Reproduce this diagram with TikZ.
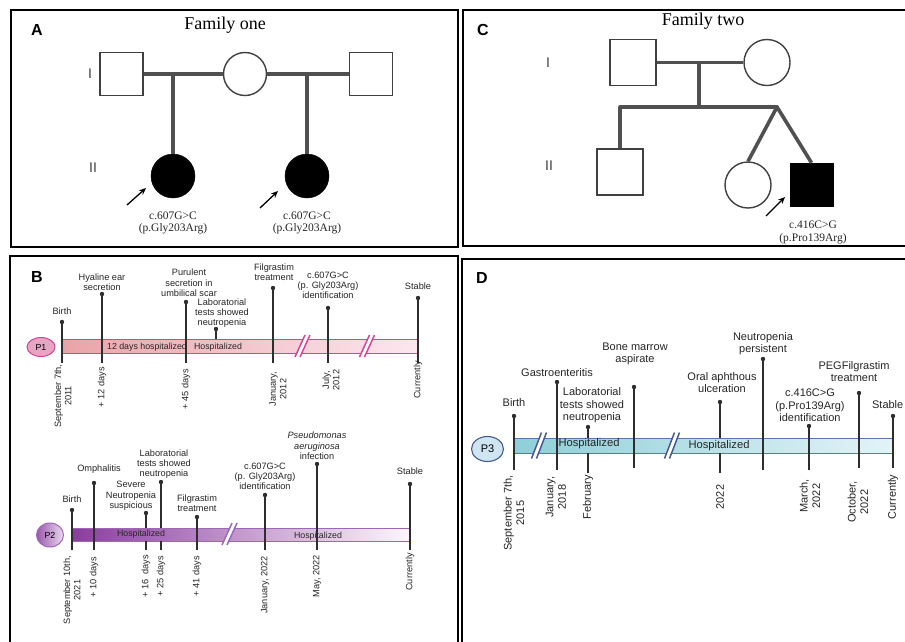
\documentclass[tikz,border=0pt]{standalone}
\usepackage{fontspec}
\setmainfont{Liberation Sans}
\newfontfamily\serifA{Liberation Serif}
\usetikzlibrary{arrows.meta,shapes.geometric}
\definecolor{pedgray}{HTML}{505050}
\definecolor{pinc}{HTML}{2E2E2E}
\definecolor{pka}{HTML}{E9A3A8}
\definecolor{pkb}{HTML}{F8CAD6}
\definecolor{pkc}{HTML}{FDE7EF}
\definecolor{pkline}{HTML}{D4449A}
\definecolor{pkfill}{HTML}{E6A5C2}
\definecolor{pua}{HTML}{8A3C9C}
\definecolor{pub}{HTML}{C9A2D6}
\definecolor{puc}{HTML}{FCF7FC}
\definecolor{puline}{HTML}{9E66B8}
\definecolor{bla}{HTML}{8ECFD7}
\definecolor{blb}{HTML}{BFE3EA}
\definecolor{blc}{HTML}{E3F3F8}
\definecolor{blline}{HTML}{5A78B0}
\definecolor{blfill}{HTML}{CFE6F2}
\definecolor{blbrk}{HTML}{4A5A8C}
\newcommand\tpin[4]{%
  \coordinate (#1t) at (#2,#3); \coordinate (#1b) at (#2,#4);
  \draw[pinline] (#1t) -- (#1b);
  \fill[pinc] (#1t) circle (2.2pt);}
\newcommand\tpinsplit[6]{%
  \coordinate (#1t) at (#2,#3); \coordinate (#1u) at (#2,#4);
  \coordinate (#1l) at (#2,#5); \coordinate (#1b) at (#2,#6);
  \draw[pinline] (#1t) -- (#1u);
  \draw[pinline] (#1l) -- (#1b);
  \fill[pinc] (#1t) circle (2.2pt);}
\newcommand\brkmark[4]{% x, y, color, halfheight
  \draw[white,line width=5pt] (#1-5,#2+#4) -- (#1+5,#2-#4);
  \draw[#3,line width=1.5pt] (#1-7.5,#2+#4) -- (#1+2.5,#2-#4);
  \draw[#3,line width=1.5pt] (#1-2.5,#2+#4) -- (#1+7.5,#2-#4);}
\begin{document}
\begin{tikzpicture}[x=1pt,y=-1pt,
  panel/.style={draw=black, line width=2pt},
  plabel/.style={font=\bfseries\fontsize{16}{16}\selectfont, inner sep=0},
  ttl/.style={font=\serifA\fontsize{18}{20}\selectfont, inner sep=0},
  gen/.style={font=\fontsize{14}{14}\selectfont, text=black!75, inner sep=0},
  ped/.style={draw=pedgray, line width=3.6pt},
  sqm/.style={rectangle, draw=black!75, line width=1.4pt, fill=white, minimum size=43pt, inner sep=0},
  circm/.style={circle, draw=black!75, line width=1.4pt, fill=white, minimum size=43pt, inner sep=0},
  fcirc/.style={circle, draw=black, fill=black, minimum size=44pt, inner sep=0},
  fsq/.style={rectangle, draw=black, fill=black, minimum size=43pt, inner sep=0},
  parrow/.style={draw=black, line width=1.3pt, -{Stealth[length=7pt,width=6pt]}},
  mut/.style={font=\serifA\fontsize{11.5}{12.5}\selectfont, align=center, inner sep=0, text=black!85},
  pinline/.style={draw=pinc, line width=1.2pt},
  evB/.style={font=\fontsize{9.2}{10.3}\selectfont, align=center, inner sep=0, text=black!85},
  evD/.style={font=\fontsize{11}{12.5}\selectfont, align=center, inner sep=0, text=black!85},
  rotB/.style={evB, rotate=90},
  rotD/.style={evD, rotate=90},
  bartxtB/.style={font=\fontsize{8.8}{9}\selectfont, inner sep=0, text=black!85},
  bartxtD/.style={font=\fontsize{11.2}{12}\selectfont, inner sep=0, text=black!85},
  pbadge/.style={ellipse, inner sep=0}
]
\useasboundingbox (0,0) rectangle (905,641);
\fill[white] (0,0) rectangle (905,641);

% ---------------- panels ----------------
\draw[panel] (11,10) rectangle (458,247);
\draw[panel] (463,10) rectangle (915,246);
\draw[panel] (10,256) rectangle (458,660);
\draw[panel] (462,259) rectangle (915,660);

% ---------------- Panel A ----------------
\node[plabel] (labA) at (37,30) {A};
\node[ttl] (ttlA) at (225,25) {Family one};
\node[gen] (genA1) at (90,74) {I};
\node[gen] (genA2) at (93,168) {II};
\node[sqm] (a1) at (121.5,74) {};
\node[circm] (a2) at (245,74) {};
\node[sqm] (a3) at (371,74) {};
\node[fcirc] (a4) at (173,176) {};
\node[fcirc] (a5) at (307,176) {};
\coordinate (am1) at (173,74);
\coordinate (am2) at (307,74);
\draw[ped] (a1.east) -- (a2.west);
\draw[ped] (a2.east) -- (a3.west);
\draw[ped] (am1) -- (a4.north);
\draw[ped] (am2) -- (a5.north);
\coordinate (ar1s) at (127,205); \coordinate (ar1e) at (146,188);
\coordinate (ar2s) at (260,208); \coordinate (ar2e) at (278,191);
\draw[parrow] (ar1s) -- (ar1e);
\draw[parrow] (ar2s) -- (ar2e);
\node[mut] (a4l) at (173,223) {c.607G>C\\(p.Gly203Arg)};
\node[mut] (a5l) at (307,223) {c.607G>C\\(p.Gly203Arg)};

% ---------------- Panel C ----------------
\node[plabel] (labC) at (483,30) {C};
\node[ttl] (ttlC) at (703,21) {Family two};
\node[gen] (genC1) at (548,63) {I};
\node[gen] (genC2) at (549,166) {II};
\node[sqm, minimum size=46pt] (c1) at (633,62.5) {};
\node[circm, minimum size=46pt] (c2) at (767,62.5) {};
\node[sqm, minimum size=46pt] (c3) at (620,172) {};
\node[circm, minimum size=46pt] (c4) at (748,185) {};
\node[fsq] (c5) at (811.5,184.5) {};
\coordinate (cm) at (699,62.5);
\coordinate (cs) at (699,107);
\coordinate (csl) at (620,107);
\coordinate (csr) at (777,107);
\draw[ped] (c1.east) -- (c2.west);
\draw[ped] (cm) -- (cs);
\draw[ped, line cap=round] (csl) -- (csr);
\draw[ped] (csl) -- (c3.north);
\draw[ped] (csr) -- (c4.north);
\draw[ped] (csr) -- (c5.north);
\coordinate (ar3s) at (766,216); \coordinate (ar3e) at (785,197);
\draw[parrow] (ar3s) -- (ar3e);
\node[mut] (c5l) at (813,232.5) {c.416C>G\\(p.Pro139Arg)};

% ---------------- Panel B ----------------
\node[plabel] (labB) at (37,277) {B};

% P1 bar
\draw[draw=pkline, line width=1pt, left color=pka, middle color=pkb, right color=pkc] (62,339) rectangle (418,353);
\node[pbadge, draw=pkline, line width=1pt, fill=pkfill, minimum width=28pt, minimum height=19pt] (p1) at (41,347) {\fontsize{8.8}{9}\selectfont P1};
\brkmark{302.5}{346}{pkline}{11}
\brkmark{367}{346}{pkline}{11}
\tpin{q1}{62}{322}{363}
\tpin{q2}{102}{294}{363}
\tpin{q3}{186}{302}{363}
\tpin{q4}{216}{329}{339}
\tpin{q5}{273}{288}{363}
\tpin{q6}{328}{308}{363}
\tpin{q7}{418}{298}{363}
\node[bartxtB] (p1h1) at (147,347) {12 days hospitalized};
\node[bartxtB] (p1h2) at (218,347) {Hospitalized};
\node[evB] (e1) at (62,311) {Birth};
\node[evB] (e2) at (102,282) {Hyaline ear\\secretion};
\node[evB] (e3) at (189,283) {Purulent\\secretion in\\umbilical scar};
\node[evB] (e4) at (222,313) {Laboratorial\\tests showed\\neutropenia};
\node[evB] (e5) at (274,272.5) {Filgrastim\\treatment};
\node[evB] (e6) at (328,285.5) {c.607G>C\\(p. Gly203Arg)\\identification};
\node[evB] (e7) at (418,286) {Stable};
\node[rotB] (d1) at (63,396) {September 7th,\\2011};
\node[rotB] (d2) at (102,387) {+ 12 days};
\node[rotB] (d3) at (186,389) {+ 45 days};
\node[rotB] (d4) at (278,389) {January,\\2012};
\node[rotB] (d5) at (331,380) {July,\\2012};
\node[rotB] (d6) at (418,380) {Currently};

% P2 bar
\draw[draw=puline, line width=1pt, left color=pua, middle color=pub, right color=puc] (71,528) rectangle (410,541);
\node[pbadge, draw=puline, line width=1pt, left color=pua!85, right color=pub!40, minimum width=27pt, minimum height=24pt] (p2) at (50,535) {\fontsize{8.8}{9}\selectfont P2};
\brkmark{229.5}{534}{puline}{11}
\tpin{r1}{72}{510}{550}
\tpin{r2}{94}{483}{550}
\tpinsplit{r3}{146}{513}{528}{541}{550}
\tpinsplit{r4}{161}{482}{528}{541}{550}
\tpin{r5}{197}{517}{550}
\tpin{r6}{265}{495}{550}
\tpin{r7}{317}{464}{550}
\tpin{r8}{410}{484}{550}
\node[bartxtB] (p2h1) at (141,534) {Hospitalized};
\node[bartxtB] (p2h2) at (318,536) {Hospitalized};
\node[evB] (f1) at (72,499) {Birth};
\node[evB] (f2) at (99,469) {Omphalitis};
\node[evB] (f3) at (131,496) {Severe\\Neutropenia\\suspicious};
\node[evB] (f4) at (164,464) {Laboratorial\\tests showed\\neutropenia};
\node[evB] (f5) at (197,503) {Filgrastim\\treatment};
\node[evB] (f6) at (265,476.5) {c.607G>C\\(p. Gly203Arg)\\identification};
\node[evB] (f7) at (317,446) {\textit{Pseudomonas}\\\textit{aeruginosa}\\infection};
\node[evB] (f8) at (410,471) {Stable};
\node[rotB] (g1) at (72,590) {September 10th,\\2021};
\node[rotB] (g2) at (94,577) {+ 10 days};
\node[rotB] (g3) at (146,576) {+ 16\enspace days};
\node[rotB] (g4) at (161,576) {+ 25 days};
\node[rotB] (g5) at (197,576) {+ 41 days};
\node[rotB] (g6) at (265,585) {January, 2022};
\node[rotB] (g7) at (317,576) {May, 2022};
\node[rotB] (g8) at (410,572) {Currently};

% ---------------- Panel D ----------------
\node[plabel] (labD) at (482,278) {D};
\draw[draw=blline, line width=1pt, left color=bla, middle color=blb, right color=blc] (514,438) rectangle (893,453);
\node[pbadge, draw=blbrk, line width=1.1pt, fill=blfill, minimum width=32pt, minimum height=25pt] (p3) at (487.5,449) {\fontsize{11}{12}\selectfont P3};
\brkmark{539}{445.5}{blbrk}{13}
\brkmark{672}{445.5}{blbrk}{13}
\tpin{s1}{514}{416}{470}
\tpin{s2}{557}{382}{470}
\tpinsplit{s3}{588}{427}{438}{453}{473}
\tpin{s4}{634}{387}{468}
\tpinsplit{s5}{720}{402}{438}{453}{473}
\tpin{s6}{763}{359}{470}
\tpin{s7}{809}{426}{470}
\tpin{s8}{859}{393}{468}
\tpin{s9}{893}{416}{468}
\node[bartxtD] (p3h1) at (589,444) {Hospitalized};
\node[bartxtD] (p3h2) at (719,446) {Hospitalized};
\node[evD] (h1) at (514,403) {Birth};
\node[evD] (h2) at (557,373) {Gastroenteritis};
\node[evD] (h3) at (592,405.5) {Laboratorial\\tests showed\\neutropenia};
\node[evD] (h4) at (635,354) {Bone marrow\\aspirate};
\node[evD] (h5) at (722,382.5) {Oral aphthous\\ulceration};
\node[evD] (h6) at (763,343.5) {Neutropenia\\persistent};
\node[evD] (h7) at (810,405.5) {c.416C>G\\(p.Pro139Arg)\\identification};
\node[evD] (h8) at (854,371.5) {PEGFilgrastim\\treatment};
\node[evD, anchor=east] (h9) at (903.5,405) {Stable};
\node[rotD] (k1) at (514,513) {September 7th,\\2015};
\node[rotD] (k2) at (556,497) {January,\\2018};
\node[rotD] (k3) at (588,497) {February};
\node[rotD] (k4) at (720,497) {2022};
\node[rotD] (k5) at (810,496) {March,\\2022};
\node[rotD] (k6) at (858,502) {October,\\2022};
\node[rotD] (k7) at (893,497) {Currently};
\end{tikzpicture}
\end{document}
